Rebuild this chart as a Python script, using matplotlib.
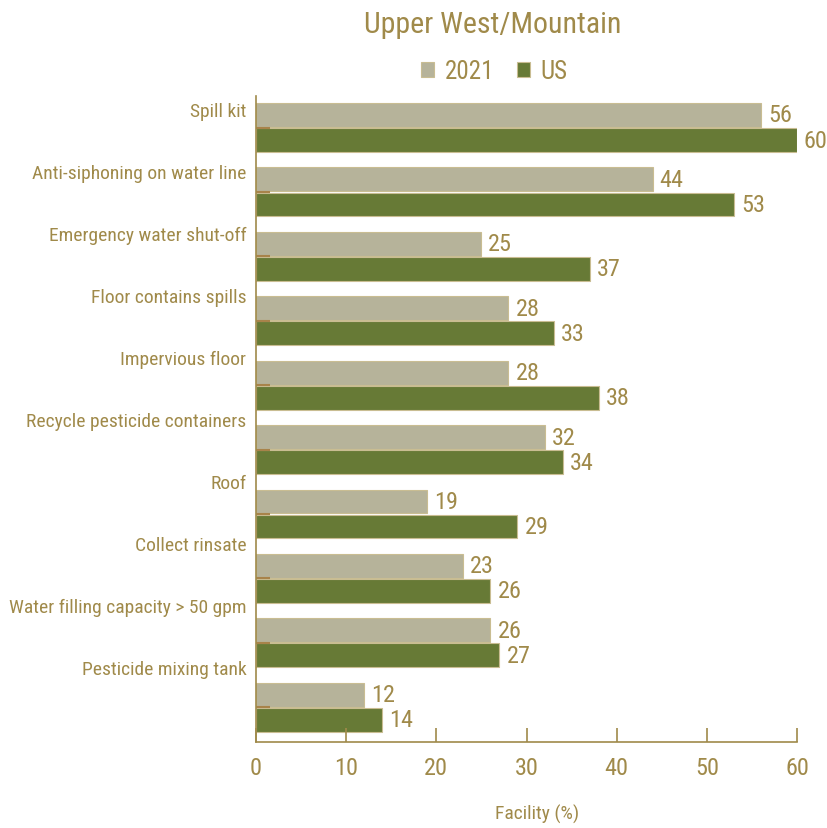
import matplotlib
matplotlib.use("Agg")
import matplotlib.pyplot as plt
from matplotlib import font_manager
import numpy as np

categories = ["Spill kit", "Anti-siphoning on water line", "Emergency water shut-off",
              "Floor contains spills", "Impervious floor", "Recycle pesticide containers",
              "Roof", "Collect rinsate", "Water filling capacity > 50 gpm",
              "Pesticide mixing tank"]
vals_2021 = [56, 44, 25, 28, 28, 32, 19, 23, 26, 12]
vals_us = [60, 53, 37, 33, 38, 34, 29, 26, 27, 14]
series_names = ["2021", "US"]
title = "Upper West/Mountain"
xlabel = "Facility (%)"
xticks = [0, 10, 20, 30, 40, 50, 60]

names = {f.name for f in font_manager.fontManager.ttflist}
fam = [f for f in ["Liberation Sans Narrow", "Roboto Condensed", "Liberation Sans"] if f in names] + ["DejaVu Sans"]
plt.rcParams['font.family'] = fam

TXT = "#a08a4a"
C21 = "#b6b39a"
CUS = "#677a36"
EDGE = "#c9bd92"

fig = plt.figure(figsize=(8.28, 8.29), dpi=100)
ax = fig.add_axes([256/828, 1-743/829, (797-256)/828, (743-97)/829])

n = len(categories)
y = np.arange(n)
h = 0.37
off = 0.195
b1 = ax.barh(y - off, vals_2021, height=h, color=C21, edgecolor=EDGE, linewidth=0.8, label=series_names[0])
b2 = ax.barh(y + off, vals_us, height=h, color=CUS, edgecolor=EDGE, linewidth=0.8, label=series_names[1])
for bars, vals in ((b1, vals_2021), (b2, vals_us)):
    for rect, v in zip(bars, vals):
        ax.annotate(str(v), (v, rect.get_y() + rect.get_height()/2), xytext=(5, 0),
                    textcoords="offset points", va="center", ha="left",
                    fontsize=17.5, color=TXT)

ax.set_xlim(0, 60)
ax.set_ylim(n - 1 + 0.54, -0.49)
ax.set_xticks(xticks)
ax.tick_params(axis='x', direction='in', length=10, width=1.2, color=TXT,
               labelcolor=TXT, labelsize=17.5, pad=10)
# y ticks at pair centres, labels placed on minor ticks
ax.set_yticks(y)
ax.set_yticklabels([])
ax.tick_params(axis='y', which='major', direction='in', length=10, width=1.5, color="#a8834a")
lab_pos = -0.287 + 0.963 * y
ax.set_yticks(lab_pos, minor=True)
ax.set_yticklabels(categories, minor=True)
ax.tick_params(axis='y', which='minor', length=0, labelcolor=TXT, labelsize=14, pad=7)

for s in ["top", "right"]:
    ax.spines[s].set_visible(False)
for s in ["left", "bottom"]:
    ax.spines[s].set_color(TXT)
    ax.spines[s].set_linewidth(1.2)

ax.set_xlabel(xlabel, color=TXT, fontsize=14)
ax.xaxis.set_label_coords(0.52, -0.096)
fig.text(493/828, 1-25/829, title, ha="center", va="center", fontsize=21.5, color=TXT)
fig.legend(handles=[b1, b2], labels=series_names, loc="center", bbox_to_anchor=(494/828, 1-72/829),
           ncol=2, frameon=False, fontsize=18, labelcolor=TXT, handlelength=0.55, handleheight=0.55,
           handletextpad=0.4, columnspacing=0.9)

fig.savefig("out.png", dpi=100)
